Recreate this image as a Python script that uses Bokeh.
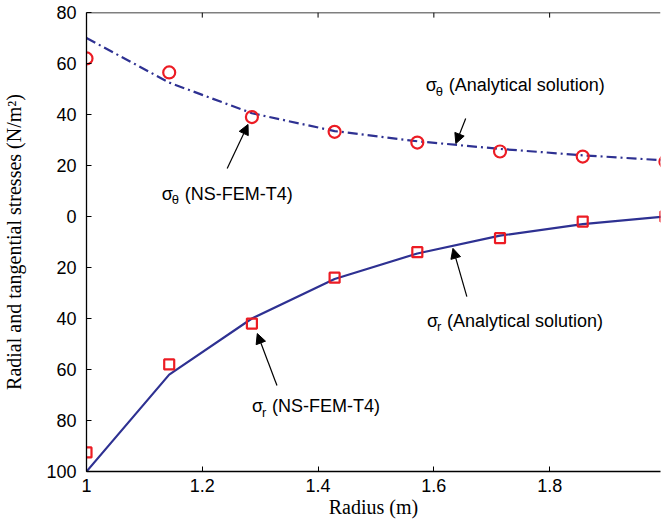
from bokeh.plotting import figure
from bokeh.models import Range1d, Label, Arrow, NormalHead, FixedTicker, Span
from bokeh.embed import file_html
from bokeh.resources import INLINE

# data
radius = [1.0, 1.142857, 1.285714, 1.428571, 1.571429, 1.714286, 1.857143, 2.0]
sigma_theta_exact = [70.0, 52.5, 40.5, 33.5, 29.5, 26.5, 24.0, 22.0]
sigma_r_exact = [-100.0, -62.0, -40.0, -24.5, -14.5, -7.5, -3.0, 0.0]
sigma_theta_fem = [62.0, 56.5, 39.0, 33.2, 29.0, 25.5, 23.5, 21.5]
sigma_r_fem = [-92.5, -58.0, -42.0, -24.0, -14.0, -8.5, -2.0, 0.0]
x_ticks = [1.0, 1.2, 1.4, 1.6, 1.8]
y_ticks = [80, 60, 40, 20, 0, -20, -40, -60, -80, -100]
y_tick_labels = {v: str(abs(v)) for v in y_ticks}
y_top = 80

BLUE = "#2E3192"
RED = "#EC1C24"

p = figure(width=661, height=521, output_backend="svg", toolbar_location=None,
           x_range=Range1d(1.0, 1.9915), y_range=Range1d(-100, y_top),
           min_border_left=85, min_border_right=1, min_border_top=12, min_border_bottom=50)
p.outline_line_color = None
p.grid.visible = False
p.background_fill_color = "white"

for ax in [p.xaxis[0], p.yaxis[0]]:
    ax.major_tick_in = 5
    ax.major_tick_out = 0
    ax.minor_tick_in = 0
    ax.minor_tick_out = 0
    ax.axis_line_color = "black"
    ax.axis_line_width = 1.3
    ax.major_label_text_font = "Liberation Sans"
    ax.major_label_text_font_size = "18px"
    ax.major_label_text_color = "black"
    ax.axis_label_text_font = "Liberation Serif"
    ax.axis_label_text_font_size = "20px"
    ax.axis_label_text_font_style = "normal"
    ax.axis_label_text_color = "black"

p.xaxis[0].ticker = FixedTicker(ticks=x_ticks)
p.xaxis[0].major_label_overrides = {1.0: "1"}
p.xaxis[0].major_label_standoff = 7
p.xaxis[0].axis_label = "Radius (m)"
p.xaxis[0].axis_label_standoff = 1

p.yaxis[0].ticker = FixedTicker(ticks=y_ticks)
p.yaxis[0].major_label_overrides = y_tick_labels
p.yaxis[0].major_label_standoff = 10
p.yaxis[0].axis_label = "Radial and tangential stresses (N/m²)"
p.yaxis[0].axis_label_standoff = 18

# top frame line with inward ticks
p.add_layout(Span(location=y_top, dimension="width", line_color="black", line_width=1.3))
p.segment(x0=x_ticks, y0=[y_top] * len(x_ticks), x1=x_ticks, y1=[y_top - 2] * len(x_ticks),
          line_color="black", line_width=1)

p.line(radius, sigma_theta_exact, line_color=BLUE, line_width=2.2, line_dash="10 4 2 4")
p.line(radius, sigma_r_exact, line_color=BLUE, line_width=2.2)
p.scatter(radius, sigma_theta_fem, marker="circle", size=12, fill_color=None,
          line_color=RED, line_width=2.2)
p.scatter(radius, sigma_r_fem, marker="square", size=10, fill_color=None,
          line_color=RED, line_width=2.2)

def sigma_label(x, y, sub, rest, rest_off):
    common = dict(x=x, y=y, text_font="Liberation Sans", text_color="black",
                  text_baseline="alphabetic")
    p.add_layout(Label(text="σ", text_font_size="18px", **common))
    p.add_layout(Label(text=sub, text_font_size="13px", x_offset=10, y_offset=-6, **common))
    p.add_layout(Label(text=rest, text_font_size="18px", x_offset=rest_off, **common))

sigma_label(1.586, 51.5, "θ", "(Analytical solution)", 23)
sigma_label(1.130, 9.0, "θ", "(NS-FEM-T4)", 23)
sigma_label(1.588, -40.8, "r", "(Analytical solution)", 20)
sigma_label(1.286, -74.5, "r", "(NS-FEM-T4)", 20)

arrows = [
    (1.655, 38.4, 1.638, 28.6),
    (1.243, 18.8, 1.279, 36.1),
    (1.657, -31.4, 1.633, -12.5),
    (1.329, -66.3, 1.295, -45.9),
]
for xs, ys, xe, ye in arrows:
    p.add_layout(Arrow(x_start=xs, y_start=ys, x_end=xe, y_end=ye, line_width=1.2,
                       line_color="black",
                       end=NormalHead(size=10, fill_color="black", line_color="black",
                                      line_width=1)))

open("out.html", "w").write(file_html(p, INLINE))
